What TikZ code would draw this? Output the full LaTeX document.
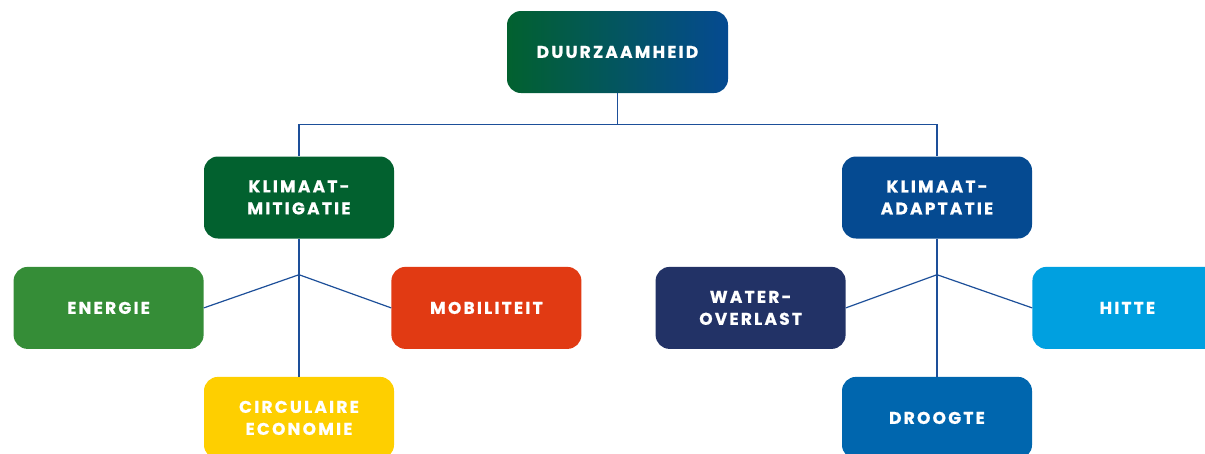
\documentclass[tikz,border=0pt]{standalone}
\usepackage{fontspec}
\setmainfont{Poppins}
\newfontfamily\boxfont{Poppins}[LetterSpace=13,FakeBold=0.6]
\usetikzlibrary{positioning}
\definecolor{mitgreen}{HTML}{02612F}
\definecolor{adpblue}{HTML}{054A91}
\definecolor{energygreen}{HTML}{358D37}
\definecolor{mobred}{HTML}{E13A13}
\definecolor{circyellow}{HTML}{FECF00}
\definecolor{waterblue}{HTML}{223266}
\definecolor{heatblue}{HTML}{00A0E0}
\definecolor{droughtblue}{HTML}{0066AE}
\definecolor{linkblue}{HTML}{1D4F99}

\begin{document}
\begin{tikzpicture}[x=1pt,y=-1pt,
box/.style={rectangle,rounded corners=14pt,minimum width=190pt,minimum height=82pt,
  text=white,align=center,font=\boxfont\bfseries\fontsize{17}{22}\selectfont},
link/.style={draw=linkblue,line width=1.2pt}]
\useasboundingbox (0,0) rectangle (1205,453);
\node[box,minimum width=221pt,left color=mitgreen,right color=adpblue] (duur) at (617.5,52) {DUURZAAMHEID};
\node[box,fill=mitgreen] (mit) at (299,197.5) {KLIMAAT-\\MITIGATIE};
\node[box,fill=adpblue] (adp) at (937,197.5) {KLIMAAT-\\ADAPTATIE};
\node[box,fill=energygreen,below left=28pt and 0pt of mit.south west] (energie) {ENERGIE};
\node[box,fill=mobred,below right=28pt and -3pt of mit.south east] (mob) {MOBILITEIT};
\node[box,fill=circyellow,below=138pt of mit] (circ) {CIRCULAIRE\\ECONOMIE};
\node[box,fill=waterblue,below left=28pt and -4pt of adp.south west] (water) {WATER-\\OVERLAST};
\node[box,fill=heatblue,below right=28pt and 0pt of adp.south east] (hitte) {HITTE};
\node[box,fill=droughtblue,below=138pt of adp] (droog) {DROOGTE};
\coordinate[below=31pt of duur.south] (split);
\coordinate[below=36pt of mit.south] (jmit);
\coordinate[below=36pt of adp.south] (jadp);
\draw[link] (duur.south) -- (split) -| (mit.north);
\draw[link] (split) -| (adp.north);
\draw[link] (mit) -- (circ);
\draw[link] (energie.east) -- (jmit) -- (mob.west);
\draw[link] (adp) -- (droog);
\draw[link] (water.east) -- (jadp) -- (hitte.west);
\end{tikzpicture}
\end{document}
